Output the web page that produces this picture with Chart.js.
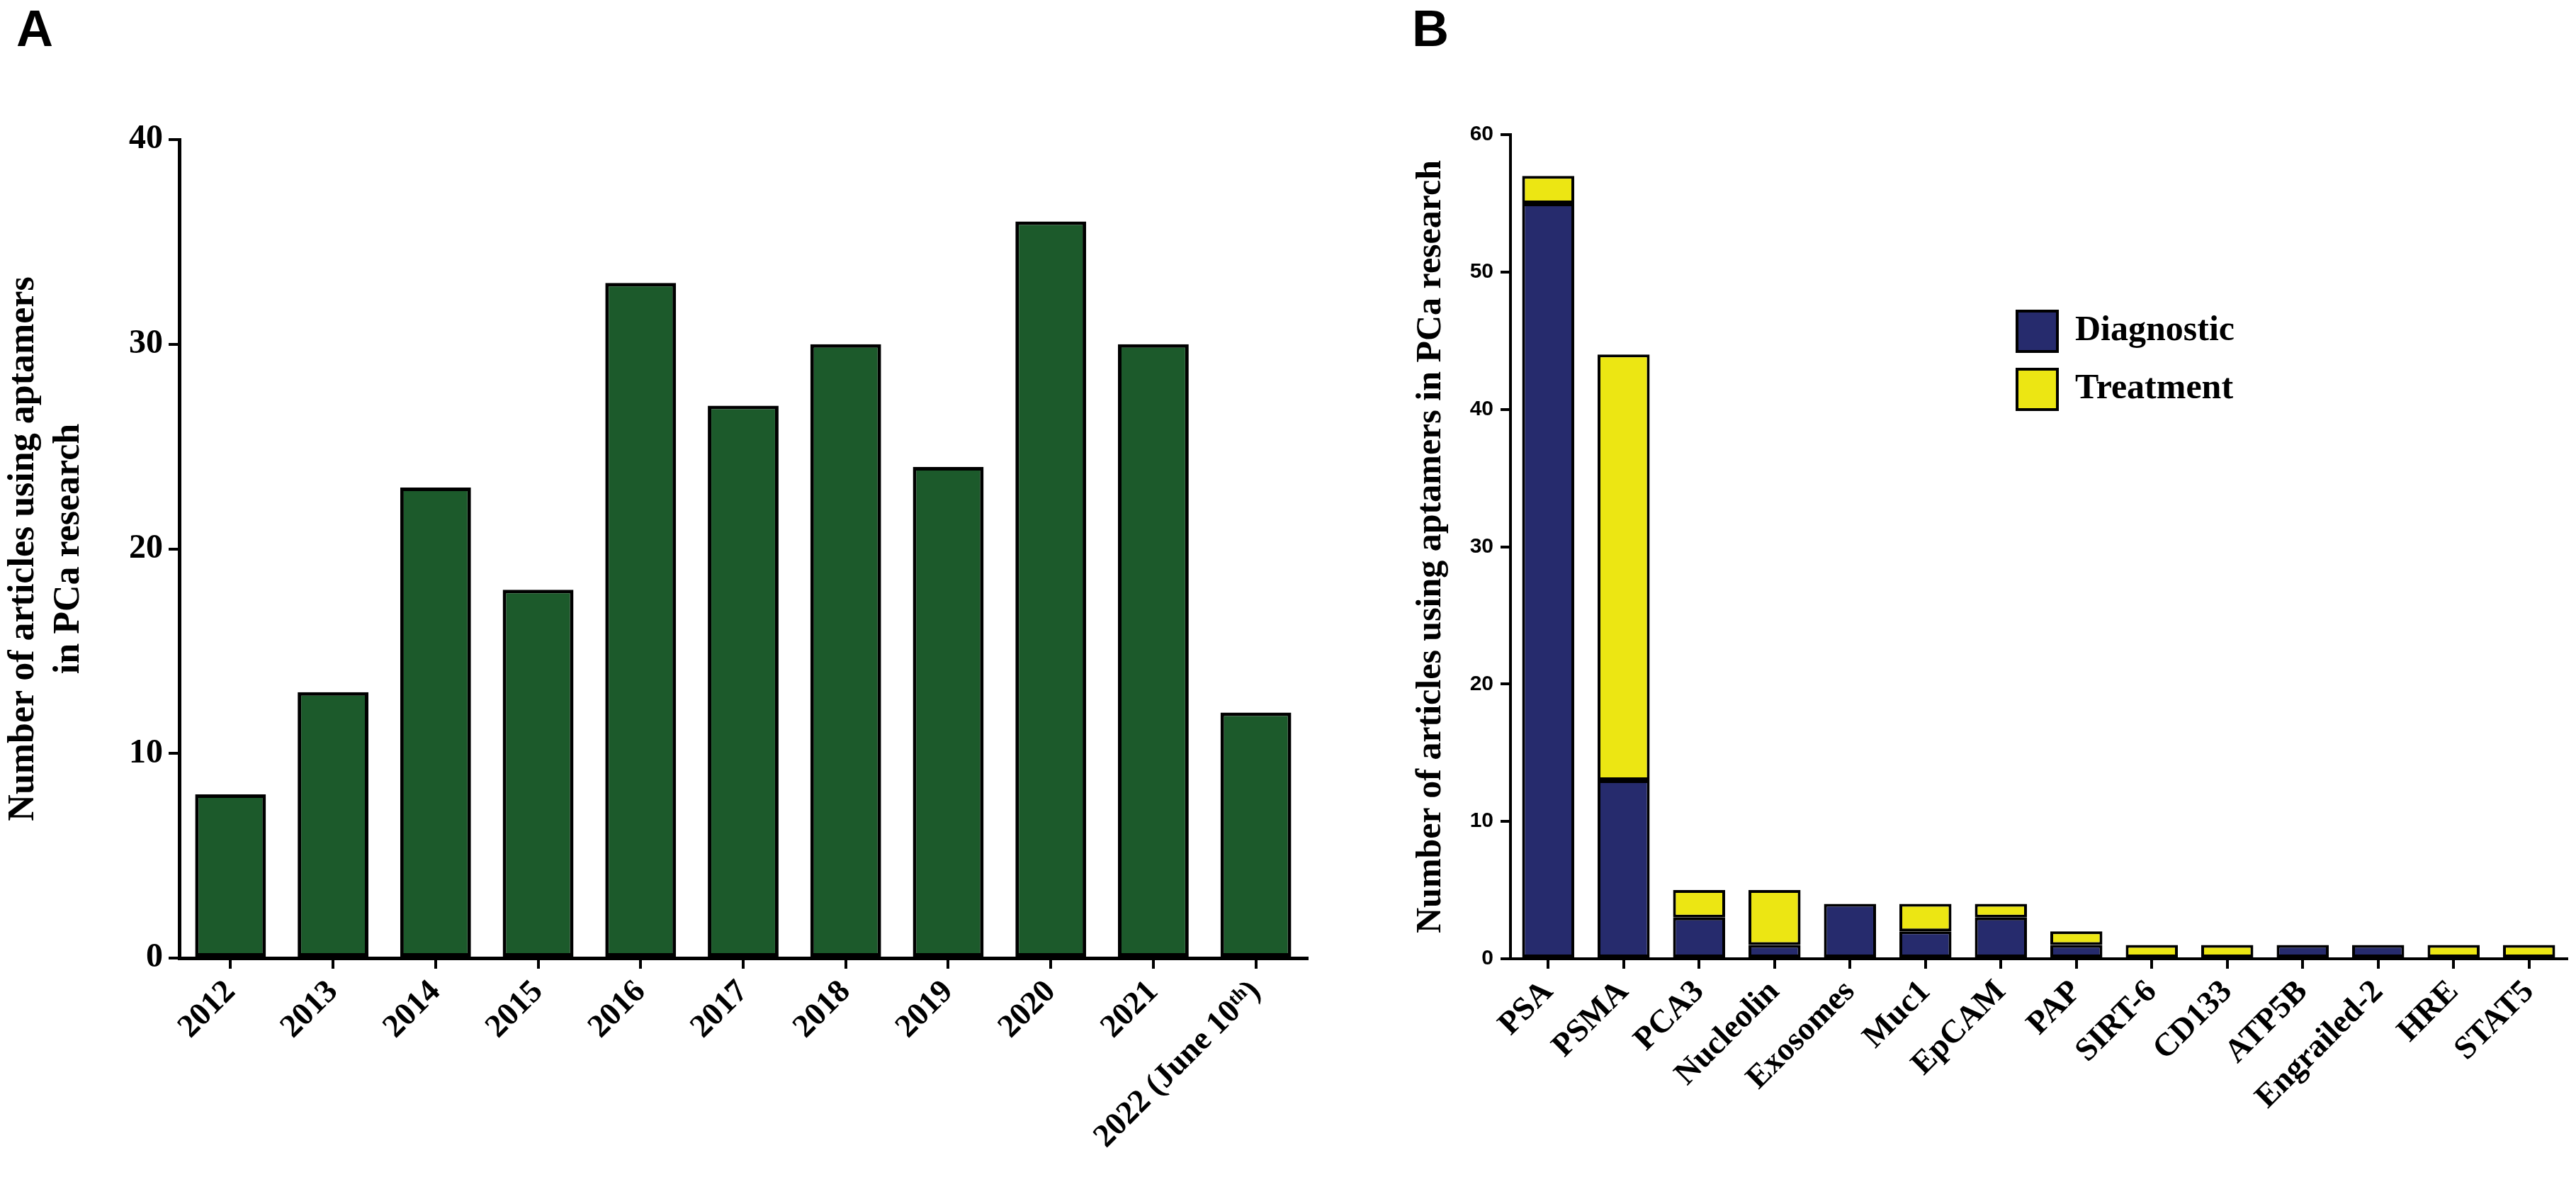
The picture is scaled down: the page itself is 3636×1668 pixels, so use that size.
<!DOCTYPE html>
<html>
<head>
<meta charset="utf-8">
<script src="https://cdn.jsdelivr.net/npm/chart.js@4.4.0/dist/chart.umd.min.js"></script>
<style>
  html, body { margin: 0; padding: 0; background: #fff; }
  body { width: 3636px; height: 1668px; position: relative; overflow: hidden; }
  .panel { position: absolute; top: 0; }
  .tag { position: absolute; top: 4px; font: bold 72px 'Liberation Sans', Arial, sans-serif; line-height: 1; color: #000; }
</style>
</head>
<body>
<div class="tag" style="left:23px">A</div>
<div class="tag" style="left:1993px">B</div>
<canvas id="chartA" class="panel" style="left:0" width="1900" height="1668"></canvas>
<canvas id="chartB" class="panel" style="left:1900px" width="1736" height="1668"></canvas>
<script>
// Panel A - articles per year
const years = ['2012', '2013', '2014', '2015', '2016', '2017', '2018', '2019', '2020', '2021', '2022 (June 10ᵗʰ)'];
const articlesPerYear = [8, 13, 23, 18, 33, 27, 30, 24, 36, 30, 12];
const yTicksA = [0, 10, 20, 30, 40];

// Panel B - articles per target
const targets = ['PSA', 'PSMA', 'PCA3', 'Nucleolin', 'Exosomes', 'Muc1', 'EpCAM', 'PAP', 'SIRT-6', 'CD133', 'ATP5B', 'Engrailed-2', 'HRE', 'STAT5'];
const diagnostic = [55, 13, 3, 1, 4, 2, 3, 1, 0, 0, 1, 1, 0, 0];
const treatment = [2, 31, 2, 4, 0, 2, 1, 1, 1, 1, 0, 0, 1, 1];
const yTicksB = [0, 10, 20, 30, 40, 50, 60];

const SERIF = "'Liberation Serif', 'DejaVu Serif', serif";
const SANS = "'Liberation Sans', Arial, sans-serif";

// push the legend into the empty part of the plot
const placeLegend = {
  id: 'placeLegend',
  afterLayout(chart) {
    const lg = chart.legend;
    if (!lg) return;
    lg.left = 922;
    lg.top = 414;
    lg.right = lg.left + lg.width;
    lg.bottom = lg.top + lg.height;
  }
};

function tickGrid(len) {
  return { display: true, drawOnChartArea: false, offset: false, color: '#000', lineWidth: 4, tickLength: len };
}

// Panel A
new Chart(document.getElementById('chartA'), {
  type: 'bar',
  data: {
    labels: years,
    datasets: [{
      data: articlesPerYear,
      backgroundColor: '#1c5a2b',
      borderColor: '#000',
      borderWidth: 5,
      borderSkipped: false,
      barPercentage: 0.69,
      categoryPercentage: 1
    }]
  },
  options: {
    responsive: false,
    animation: false,
    layout: { padding: { top: 197, right: 55, left: 0, bottom: 0 } },
    plugins: { legend: { display: false }, tooltip: { enabled: false } },
    scales: {
      x: {
        grid: tickGrid(15),
        border: { display: true, color: '#000', width: 5 },
        ticks: {
          color: '#000',
          font: { family: SERIF, weight: 'bold', size: 46 },
          minRotation: 45, maxRotation: 45,
          autoSkip: false,
          padding: 6
        },
        afterFit: s => { s.height = 316; }
      },
      y: {
        min: yTicksA[0],
        max: yTicksA[yTicksA.length - 1],
        grid: tickGrid(15),
        border: { display: true, color: '#000', width: 5 },
        ticks: {
          stepSize: yTicksA[1] - yTicksA[0],
          color: '#000',
          font: { family: SERIF, weight: 'bold', size: 48 },
          padding: 8
        },
        title: {
          display: true,
          text: ['Number of articles using aptamers', 'in PCa research'],
          color: '#000',
          font: { family: SERIF, weight: 'bold', size: 52, lineHeight: 1.23 },
          padding: { top: 2, bottom: 0 }
        },
        afterFit: s => { s.width = 253; }
      }
    }
  }
});

// Panel B
new Chart(document.getElementById('chartB'), {
  type: 'bar',
  data: {
    labels: targets,
    datasets: [{
      label: 'Diagnostic',
      data: diagnostic.map(v => v || null),
      backgroundColor: '#262b6d',
      borderColor: '#000',
      borderWidth: 4,
      borderSkipped: false,
      barPercentage: 0.69,
      categoryPercentage: 1
    }, {
      label: 'Treatment',
      data: treatment.map(v => v || null),
      backgroundColor: '#ece613',
      borderColor: '#000',
      borderWidth: 4,
      borderSkipped: false,
      barPercentage: 0.69,
      categoryPercentage: 1
    }]
  },
  options: {
    responsive: false,
    animation: false,
    layout: { padding: { top: 190, right: 13, left: 0, bottom: 0 } },
    plugins: {
      tooltip: { enabled: false },
      legend: {
        position: 'chartArea',
        align: 'start',
        labels: {
          boxWidth: 57,
          boxHeight: 57,
          padding: 25,
          color: '#000',
          font: { family: SERIF, weight: 'bold', size: 50 }
        }
      }
    },
    scales: {
      x: {
        stacked: true,
        grid: tickGrid(14),
        border: { display: true, color: '#000', width: 4 },
        ticks: {
          color: '#000',
          font: { family: SERIF, weight: 'bold', size: 46 },
          minRotation: 45, maxRotation: 45,
          autoSkip: false,
          padding: 6
        },
        afterFit: s => { s.height = 315; }
      },
      y: {
        stacked: true,
        min: yTicksB[0],
        max: yTicksB[yTicksB.length - 1],
        grid: tickGrid(14),
        border: { display: true, color: '#000', width: 4 },
        ticks: {
          stepSize: yTicksB[1] - yTicksB[0],
          color: '#000',
          font: { family: SANS, weight: 'bold', size: 30 },
          padding: 10
        },
        title: {
          display: true,
          text: 'Number of articles using aptamers in PCa research',
          color: '#000',
          font: { family: SERIF, weight: 'bold', size: 50, lineHeight: 1.2 },
          padding: { top: 90, bottom: 0 }
        },
        afterFit: s => { s.width = 232; }
      }
    }
  },
  plugins: [placeLegend]
});
</script>
</body>
</html>
